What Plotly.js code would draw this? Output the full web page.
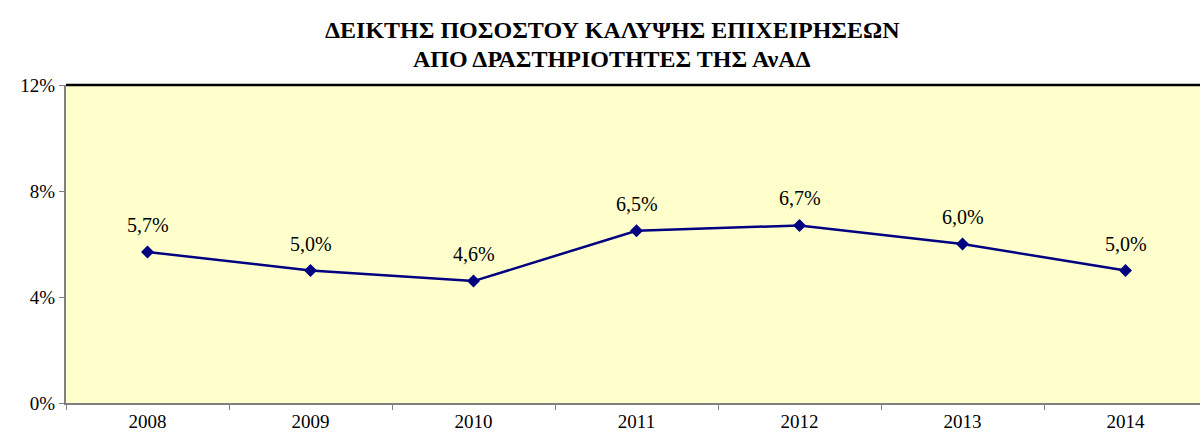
<!DOCTYPE html>
<html>
<head>
<meta charset="utf-8">
<script src="https://cdn.plot.ly/plotly-3.0.1.min.js"></script>
<style>
html,body{margin:0;padding:0;overflow:hidden;background:#fff;}
#chart{width:1207px;height:436px;}
</style>
</head>
<body>
<div id="chart"></div>
<script>
const years = ['2008','2009','2010','2011','2012','2013','2014'];
const values = [5.7, 5.0, 4.6, 6.5, 6.7, 6.0, 5.0];
const labels = values.map(v => v.toFixed(1).replace('.', ',') + '%');
const titleLines = ['ΔΕΙΚΤΗΣ ΠΟΣΟΣΤΟΥ ΚΑΛΥΨΗΣ ΕΠΙΧΕΙΡΗΣΕΩΝ', 'ΑΠΟ ΔΡΑΣΤΗΡΙΟΤΗΤΕΣ ΤΗΣ ΑνΑΔ'];
const titleLineY = [30, 59];

const serif = 'Liberation Serif, Times New Roman, serif';

const trace = {
  x: years, y: values, type: 'scatter', mode: 'lines+markers',
  line: {color: '#000080', width: 2.5},
  marker: {symbol: 'diamond', size: 10, color: '#000080'},
  cliponaxis: false, hoverinfo: 'skip'
};

const labelAnns = years.map((yr, i) => ({
  x: i, y: values[i], xref: 'x', yref: 'y', text: labels[i],
  showarrow: false, yshift: 27, xanchor: 'center', yanchor: 'middle',
  font: {family: serif, size: 20, color: '#000'}
}));

const titleAnns = titleLines.map((t, i) => ({
  text: '<b>' + t + '</b>', xref: 'paper', yref: 'paper',
  x: (612 - 66) / 1141, y: 1 + (85 - titleLineY[i]) / 318,
  xanchor: 'center', yanchor: 'middle', showarrow: false,
  font: {family: serif, size: 24, color: '#000'}
}));

const layout = {
  width: 1207, height: 436,
  margin: {l: 66, r: 0, t: 85, b: 33},
  paper_bgcolor: '#ffffff', plot_bgcolor: '#FFFFCC',
  showlegend: false,
  font: {family: serif, size: 19, color: '#000'},
  xaxis: {
    type: 'category', range: [-0.5, 6.5], tickson: 'boundaries',
    ticks: 'outside', ticklen: 5, tickcolor: '#808080', tickwidth: 1,
    showline: true, linecolor: '#808080', linewidth: 2,
    showgrid: false, zeroline: false,
    tickfont: {size: 19}
  },
  yaxis: {
    range: [0, 12], dtick: 4, tick0: 0, ticksuffix: '%',
    ticks: 'outside', ticklen: 5, tickcolor: '#808080', tickwidth: 1,
    showline: true, linecolor: '#808080', linewidth: 2,
    showgrid: false, zeroline: false,
    tickfont: {size: 19}
  },
  annotations: labelAnns.concat(titleAnns),
  shapes: [{
    type: 'line', xref: 'paper', yref: 'paper', x0: 0, x1: 1, y0: 1, y1: 1,
    line: {color: '#000000', width: 2.5}
  }]
};

Plotly.newPlot('chart', [trace], layout, {displayModeBar: false, staticPlot: true});
</script>
</body>
</html>
